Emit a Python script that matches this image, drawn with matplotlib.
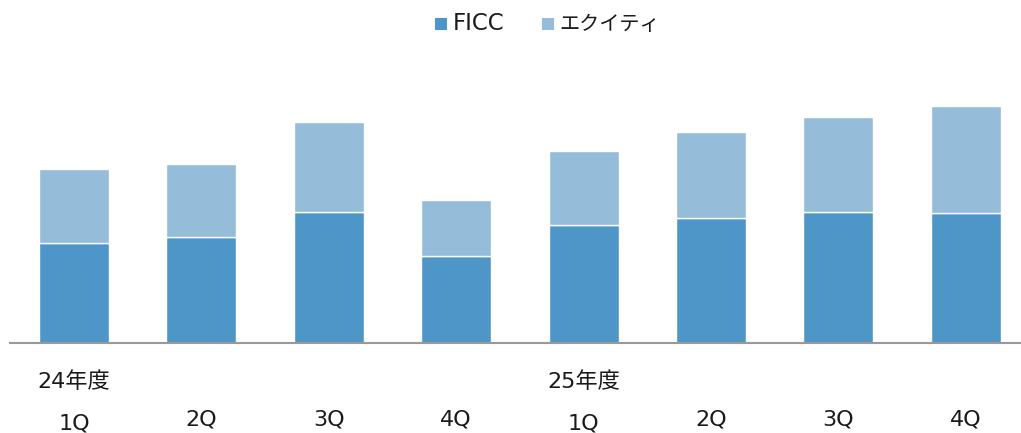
import matplotlib
matplotlib.use("Agg")
import matplotlib.pyplot as plt
import matplotlib.transforms as mtransforms
from matplotlib.patches import Rectangle

plt.rcParams['font.family'] = ['DejaVu Sans', 'Noto Sans CJK JP']

quarters = ["1Q", "2Q", "3Q", "4Q", "1Q", "2Q", "3Q", "4Q"]
year_labels = {0: "24年度", 4: "25年度"}
ficc = [100, 106, 131, 87, 118, 125, 131, 130]
equity = [74, 73, 90, 56, 74, 86, 95, 107]
series_names = ["FICC", "エクイティ"]

c_ficc = "#4f96c8"
c_eq = "#95bcd9"

W, H = 1021, 433
fig = plt.figure(figsize=(W / 100, H / 100), dpi=100)
left_px, right_px, base_px = 10, 1021, 343
ax = fig.add_axes([left_px / W, (H - base_px) / H, (right_px - left_px) / W, base_px / H])

x = list(range(len(quarters)))
ax.bar(x, ficc, width=0.55, color=c_ficc, edgecolor="white", linewidth=1.0, zorder=2)
ax.bar(x, equity, bottom=ficc, width=0.55, color=c_eq, edgecolor="white", linewidth=1.0, zorder=2)

spacing = 127.4
xl = -0.5 - (74 - spacing * 0.5 - left_px) / spacing
ax.set_xlim(xl, xl + (right_px - left_px) / spacing)
ax.set_ylim(0, base_px)

for s in ["top", "right", "left"]:
    ax.spines[s].set_visible(False)
ax.spines["bottom"].set_color("#999999")
ax.spines["bottom"].set_linewidth(1.5)
ax.set_yticks([])
ax.set_xticks([])

trans = mtransforms.blended_transform_factory(ax.transData, fig.transFigure)
for i, q in enumerate(quarters):
    yy = 423 if i in year_labels else 419
    ax.text(i, 1 - yy / H, q, transform=trans, ha="center", va="center", fontsize=16, color="#1a1a1a")
for i, lab in year_labels.items():
    ax.text(i, 1 - 382 / H, lab, transform=trans, ha="center", va="center", fontsize=16, color="#1a1a1a")

# legend (manual, to match proportions)
sq = 12
for (sx, tx, name, col, fs) in [(435, 453, series_names[0], c_ficc, 16.5),
                                (542, 559, series_names[1], c_eq, 14.5)]:
    fig.patches.append(Rectangle((sx / W, 1 - 30 / H), sq / W, sq / H,
                                 transform=fig.transFigure, facecolor=col, edgecolor="none"))
    fig.text(tx / W, 1 - 24 / H, name, ha="left", va="center", fontsize=fs, color="#1a1a1a")

fig.savefig("out.png", dpi=100)
